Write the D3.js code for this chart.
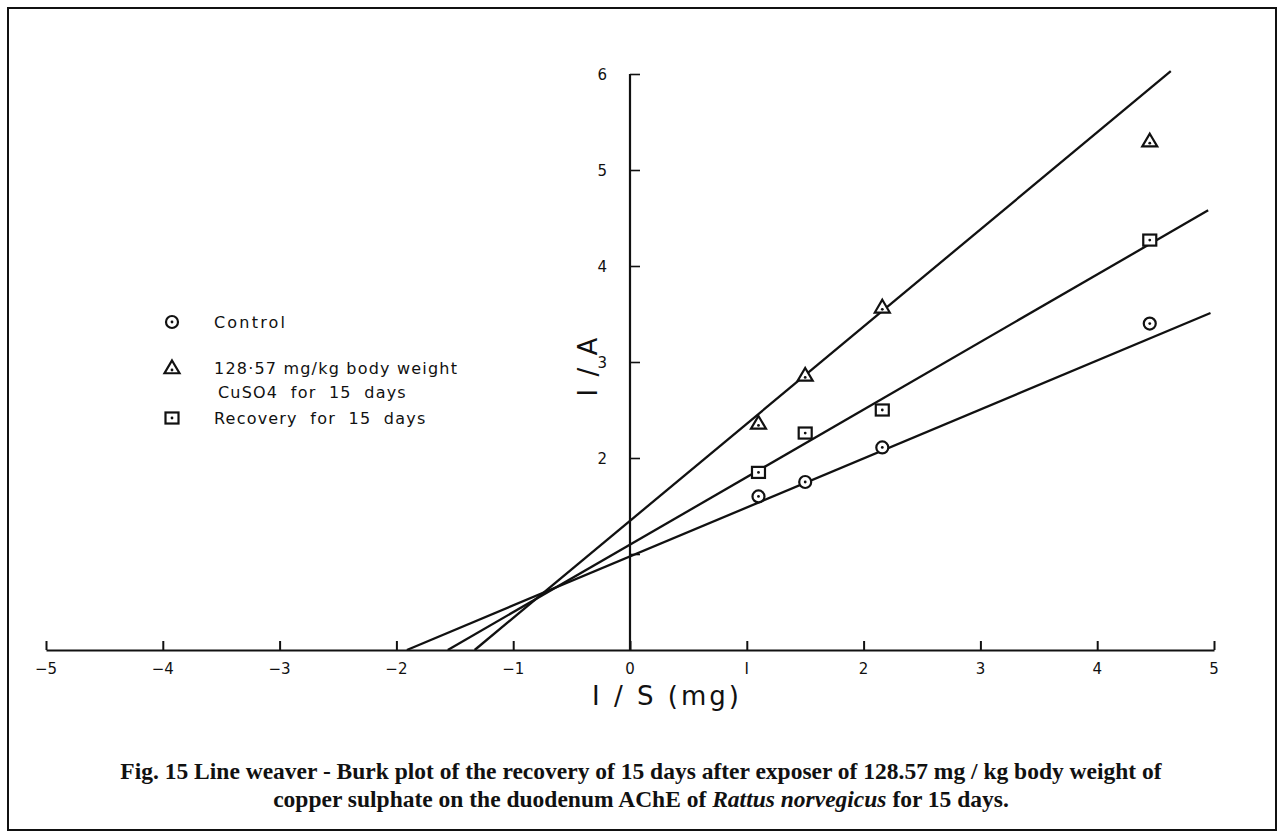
<!DOCTYPE html>
<html>
<head>
<meta charset="utf-8">
<script src="https://cdn.jsdelivr.net/npm/d3@7"></script>
<style>
  html, body { margin: 0; padding: 0; background: #fff; }
  svg { display: block; }
</style>
</head>
<body>
<svg id="chart" width="1284" height="839"></svg>
<script>
// ---- data ----
const xTicks = [-5, -4, -3, -2, -1, 0, 1, 2, 3, 4, 5];
const xTickLabels = ["\u22125", "\u22124", "\u22123", "\u22122", "\u22121", "0", "I", "2", "3", "4", "5"];
const yTicks = [1, 2, 3, 4, 5, 6];
const yTickLabels = ["", "2", "3", "4", "5", "6"];

const seriesNames = ["Control", "128\u00b757 mg/kg body weight", "Recovery for 15 days"];
const pointX = [1.1, 1.5, 2.16, 4.45];
const controlY = [1.60, 1.75, 2.11, 3.40];
const cuso4Y = [2.36, 2.86, 3.57, 5.30];
const recoveryY = [1.85, 2.26, 2.50, 4.27];

// fitted regression lines (start and end points as read)
const controlLine = [[-1.91, 0], [4.97, 3.51]];
const cuso4Line = [[-1.33, 0], [4.63, 6.03]];
const recoveryLine = [[-1.56, 0], [4.95, 4.58]];

const svg = d3.select("#chart");
const W = 1284, H = 839;

// outer frame
svg.append("rect").attr("x", 8).attr("y", 8).attr("width", W - 16).attr("height", H - 17)
  .attr("fill", "none").attr("stroke", "#111").attr("stroke-width", 2);

const x = d3.scaleLinear().domain([-5, 5]).range([46, 1214]);
const y = d3.scaleLinear().domain([0, 6]).range([650, 74]);

const ink = "#111";
const labelFont = "'DejaVu Sans', sans-serif";

// x axis (baseline through y=0)
const xAxis = d3.axisBottom(x).tickValues(xTicks).tickSize(0).tickFormat("");
const gx = svg.append("g").attr("transform", `translate(0,${y(0)})`).call(xAxis);
gx.select(".domain").attr("stroke", ink).attr("stroke-width", 2);
// upward ticks
gx.selectAll(".tick line").attr("y2", -9).attr("stroke", ink).attr("stroke-width", 2);
svg.append("g").selectAll("text").data(xTicks).join("text")
  .attr("x", d => x(d)).attr("y", 674)
  .attr("text-anchor", "middle")
  .attr("font-family", labelFont).attr("font-size", 15).attr("fill", ink)
  .text((d, i) => xTickLabels[i]);

// y axis (through x=0)
const yAxis = d3.axisRight(y).tickValues(yTicks).tickSize(10).tickFormat("");
const gy = svg.append("g").attr("transform", `translate(${x(0)},0)`).call(yAxis);
gy.select(".domain").attr("stroke", ink).attr("stroke-width", 2.2)
  .attr("d", `M0,${y(0)}V${y(6)}`);
gy.selectAll(".tick line").attr("stroke", ink).attr("stroke-width", 1.6);
svg.append("g").selectAll("text").data(yTicks).join("text")
  .attr("x", x(0) - 23).attr("y", d => y(d) + 6)
  .attr("text-anchor", "end")
  .attr("font-family", labelFont).attr("font-size", 15).attr("fill", ink)
  .text((d, i) => yTickLabels[i]);

// axis titles
svg.append("text").attr("x", 667).attr("y", 705).attr("text-anchor", "middle")
  .attr("font-family", labelFont).attr("font-size", 26).attr("fill", ink)
  .attr("letter-spacing", 3).text("I / S (mg)");
svg.append("text")
  .attr("transform", `translate(597,366) rotate(-90)`)
  .attr("text-anchor", "middle")
  .attr("font-family", labelFont).attr("font-size", 26).attr("fill", ink)
  .attr("letter-spacing", 2).text("I / A");

// regression lines
const line = d3.line().x(d => x(d[0])).y(d => y(d[1]));
[controlLine, cuso4Line, recoveryLine].forEach(l => {
  svg.append("path").attr("d", line(l)).attr("fill", "none")
    .attr("stroke", ink).attr("stroke-width", 2.3);
});

// marker drawing helpers
function circleMark(g, cx, cy) {
  g.append("circle").attr("cx", cx).attr("cy", cy).attr("r", 6)
    .attr("fill", "#fff").attr("stroke", ink).attr("stroke-width", 2.2);
  g.append("circle").attr("cx", cx).attr("cy", cy).attr("r", 1.4).attr("fill", ink);
}
function triMark(g, cx, cy) {
  const s = 7.5;
  g.append("path")
    .attr("d", `M${cx},${cy - s}L${cx + s},${cy + s * 0.7}L${cx - s},${cy + s * 0.7}Z`)
    .attr("fill", "#fff").attr("stroke", ink).attr("stroke-width", 2.2);
  g.append("circle").attr("cx", cx).attr("cy", cy + 2).attr("r", 1.4).attr("fill", ink);
}
function sqMark(g, cx, cy) {
  const s = 6.5;
  g.append("rect").attr("x", cx - s).attr("y", cy - s * 0.85).attr("width", 2 * s).attr("height", 2 * s * 0.85)
    .attr("fill", "#fff").attr("stroke", ink).attr("stroke-width", 2.2);
  g.append("circle").attr("cx", cx).attr("cy", cy).attr("r", 1.4).attr("fill", ink);
}

const gm = svg.append("g");
pointX.forEach((px, i) => {
  circleMark(gm, x(px), y(controlY[i]));
  triMark(gm, x(px), y(cuso4Y[i]));
  sqMark(gm, x(px), y(recoveryY[i]));
});

// legend
const lg = svg.append("g");
circleMark(lg, 172, 322);
triMark(lg, 172, 368);
sqMark(lg, 172, 418);
const legendLines = [
  { t: seriesNames[0], yy: 328, ls: 2.2 },
  { t: seriesNames[1], yy: 374, ls: 1.2 },
  { t: "CuSO4  for  15  days", yy: 398, ls: 1.2 },
  { t: "Recovery  for  15  days", yy: 424, ls: 1.2 }
];
lg.selectAll("text").data(legendLines).join("text")
  .attr("x", (d, i) => i === 2 ? 218 : 214).attr("y", d => d.yy)
  .attr("font-family", labelFont).attr("font-size", 16)
  .attr("fill", ink).attr("letter-spacing", d => d.ls)
  .style("white-space", "pre")
  .text(d => d.t);

// caption
const cap = svg.append("text").attr("text-anchor", "middle")
  .attr("font-family", "'Liberation Serif', 'Times New Roman', serif")
  .attr("font-weight", "bold").attr("font-size", 23.5).attr("fill", ink);
cap.append("tspan").attr("x", 641).attr("y", 779)
  .text("Fig. 15 Line weaver - Burk plot of the recovery of 15 days after exposer of 128.57 mg / kg body weight of");
cap.append("tspan").attr("x", 641).attr("y", 807)
  .text("copper sulphate on the duodenum AChE of ");
cap.append("tspan").attr("font-style", "italic").text("Rattus norvegicus");
cap.append("tspan").text(" for 15 days.");
</script>
</body>
</html>
